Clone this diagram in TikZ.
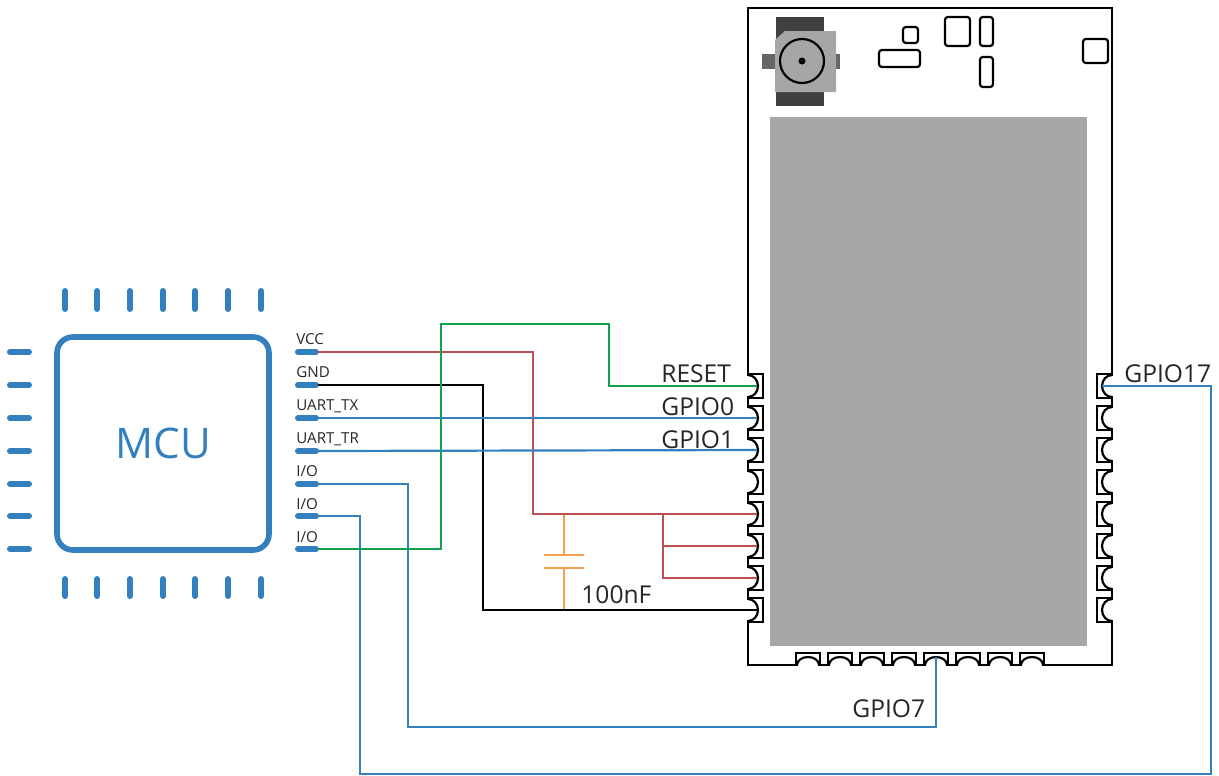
\documentclass[tikz,border=0pt]{standalone}
\usepackage{fontspec}
\setmainfont{Open Sans}
\definecolor{mcublue}{HTML}{3480BE}
\definecolor{wirered}{HTML}{B94F4F}
\definecolor{wiregreen}{HTML}{12A150}
\definecolor{caporange}{HTML}{F5A04F}
\definecolor{shieldgray}{HTML}{A6A6A6}
\definecolor{textgray}{HTML}{262626}
\begin{document}
\begin{tikzpicture}
      [
        x=0.02cm,y=-0.02cm,
        pin/.style={mcublue,line width=3.4pt,line cap=round},
        mcubox/.style={draw=mcublue,line width=3.2pt,rounded corners=9pt,minimum width=4.24cm,minimum height=4.26cm,text=mcublue,font=\fontsize{24}{28}\selectfont},
        pinlabel/.style={anchor=base west,inner sep=0pt,text=textgray,font=\fontsize{8.6}{10}\selectfont},
        padlabel/.style={anchor=base west,inner sep=0pt,text=textgray,font=\fontsize{14}{16}\selectfont},
        module/.style={black,line width=1.25pt},
        part/.style={black,line width=1.25pt,rounded corners=1.6pt},
        wire/.style={line width=1.25pt}
      ]
      \useasboundingbox (0,0) rectangle (1219,775);
      % module
      \draw [module] (748,8) rectangle (1112,665);
      \fill [shieldgray] (770,117) rectangle (1087,646);
      % connector
      \fill [black!75] (776,17) rectangle (824,106);
      \fill [black!60] (762,54) rectangle (840,69);
      \fill [shieldgray] (785,31) -- (836,31) -- (836,92) -- (775,92) -- (775,40) -- cycle;
      \draw [module] (802,61) circle (22);
      \fill [black] (802,61) circle (3.5);
      % small parts
      \draw [part] (903,27) rectangle (918,43);
      \draw [part] (879,50) rectangle (920,67);
      \draw [part] (945,17) rectangle (970,46);
      \draw [part] (980,17) rectangle (993,46);
      \draw [part] (980,57) rectangle (993,87);
      \draw [part] (1083,39) rectangle (1108,63);
      % pads
      \foreach \y [count=\i] in {374,406,...,598} {
          \fill [white] (747,\y+2) rectangle (749,\y+22);
          \draw [module] (748,\y) -- (763,\y) -- (763,\y+24) -- (748,\y+24);
          \draw [module] (748,\y+1) arc [start angle=-90,end angle=90,x radius=10,y radius=11];
          \coordinate (left\i) at (757,\y+12);
          \fill [white] (1111,\y+2) rectangle (1113,\y+22);
          \draw [module] (1112,\y) -- (1097,\y) -- (1097,\y+24) -- (1112,\y+24);
          \draw [module] (1112,\y+1) arc [start angle=-90,end angle=-270,x radius=10,y radius=11];
          \coordinate (right\i) at (1102,\y+12);
      }
      \foreach \x [count=\i] in {796,828,...,1020} {
          \fill [white] (\x+2,664) rectangle (\x+22,666);
          \draw [module] (\x,665) -- (\x,653) -- (\x+24,653) -- (\x+24,665);
          \draw [module] (\x+1,665) arc [start angle=180,end angle=360,x radius=11,y radius=8];
          \coordinate (bottom\i) at (\x+12,657);
      }
      % mcu
      \node [mcubox] (mcu) at (163,443.5) {MCU};
      \foreach \x in {65,97,130,163,195,228,261} {
          \draw [pin] (\x,291) -- (\x,309);
          \draw [pin] (\x,579) -- (\x,596);
      }
      \foreach \y [count=\i] in {352,385,418,451,484,516,549} {
          \draw [pin] (10,\y) -- (29,\y);
          \draw [pin] (298,\y) -- (316,\y);
          \coordinate (pin\i) at (318,\y);
      }
      % labels
      \node [pinlabel] (vcc) at (296,344) {VCC};
      \node [pinlabel] (gnd) at (296,377) {GND};
      \node [pinlabel] (tx) at (296,410) {UART\_TX};
      \node [pinlabel] (tr) at (296,443) {UART\_TR};
      \node [pinlabel] (io1) at (296,476) {I/O};
      \node [pinlabel] (io2) at (296,509) {I/O};
      \node [pinlabel] (io3) at (296,542) {I/O};
      \node [padlabel] (reset) at (661,382) {RESET};
      \node [padlabel] (gpio0) at (661,415) {GPIO0};
      \node [padlabel] (gpio1) at (661,448) {GPIO1};
      \node [padlabel] (gpio7) at (852,717) {GPIO7};
      \node [padlabel] (gpio17) at (1124,382) {GPIO17};
      \node [padlabel] (cap) at (581,603) {100nF};
      % capacitor
      \coordinate (capa) at (564,555);
      \coordinate (capb) at (564,568);
      \draw [wire,caporange] (564,514) -- (capa);
      \draw [wire,caporange] (capb) -- (564,610);
      \draw [wire,caporange] (544,555) -- (capa) -- (584,555);
      \draw [wire,caporange] (544,568) -- (capb) -- (584,568);
      % edges
      \draw [wire,wirered] (pin1) -| (533,514) -- (left5);
      \draw [wire,wirered] (663,514) |- (left6);
      \draw [wire,wirered] (663,546) |- (left7);
      \draw [wire,black] (pin2) -| (483,610) -- (left8);
      \draw [wire,mcublue] (pin3) -- (left2);
      \draw [wire,mcublue] (pin4) -- (left3);
      \draw [wire,mcublue] (pin5) -| (408,727) -| (bottom5);
      \draw [wire,mcublue] (pin6) -| (360,774) -| (1211,386) -- (right1);
      \draw [wire,wiregreen] (pin7) -| (441,324) -| (609,386) -- (left1);
\end{tikzpicture}
\end{document}
